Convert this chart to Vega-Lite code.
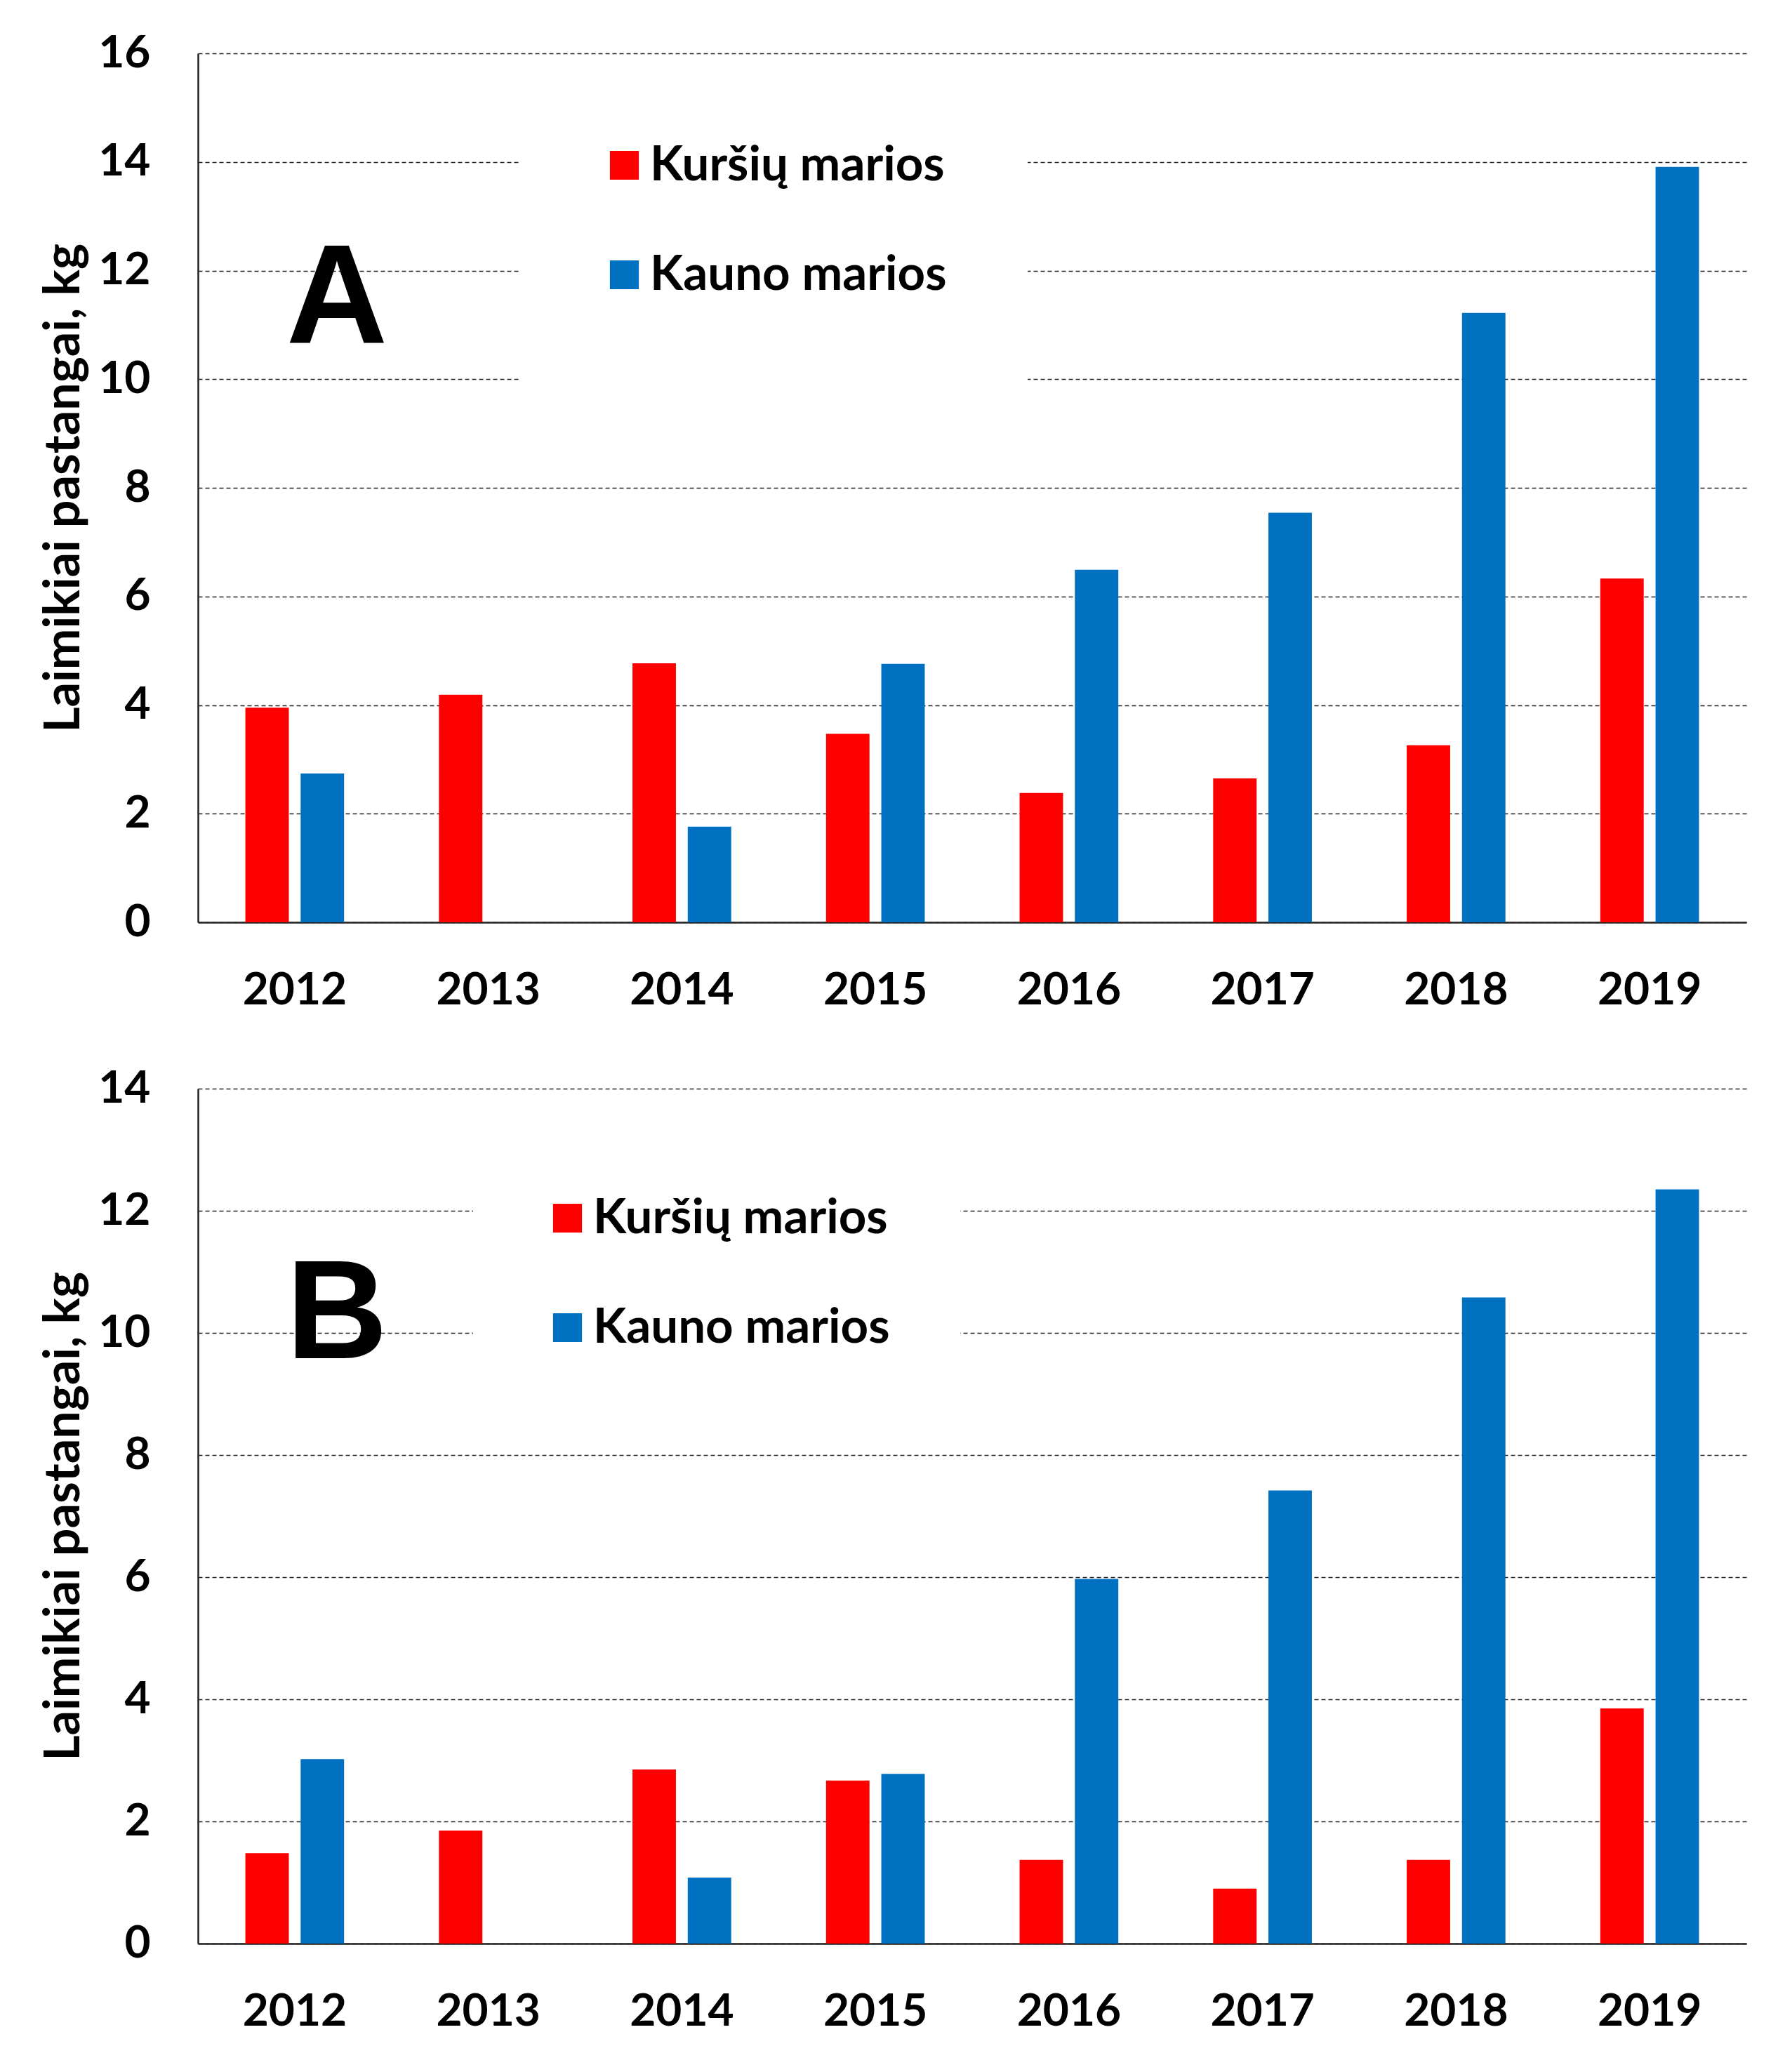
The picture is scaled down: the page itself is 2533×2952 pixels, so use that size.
{
  "$schema": "https://vega.github.io/schema/vega-lite/v6.json",
  "background": "white",
  "padding": {"left": 56, "top": 44, "right": 40, "bottom": 40},
  "config": {
    "font": "Lato",
    "view": {"stroke": null},
    "axisY": {
      "domain": true, "domainColor": "#222222", "domainWidth": 2.5, "format": "d",
      "ticks": false, "labelFontSize": 64, "labelFontWeight": "bold", "labelColor": "black",
      "labelPadding": 68, "grid": true, "gridColor": "#222222", "gridDash": [6, 4], "gridWidth": 1.6,
      "titleFontSize": 70, "titleFontWeight": "bold", "titleColor": "black", "titlePadding": 12
    },
    "axisX": {
      "domain": true, "domainColor": "#222222", "domainWidth": 2.5,
      "ticks": false, "labelFontSize": 64, "labelFontWeight": "bold", "labelColor": "black",
      "labelPadding": 65, "labelAngle": 0, "grid": false, "title": null
    },
    "legend": {
      "orient": "none", "title": null, "fillColor": "white", "symbolType": "square",
      "symbolSize": 1700, "symbolStrokeWidth": 0, "labelFontSize": 69, "labelFontWeight": "bold",
      "labelColor": "black", "labelOffset": 2, "rowPadding": 86, "labelLimit": 2000
    }
  },
  "datasets": {
    "bars": [
      {"panel": "A", "year": "2012", "series": "Kuršių marios", "value": 3.95},
      {"panel": "A", "year": "2012", "series": "Kauno marios", "value": 2.74},
      {"panel": "A", "year": "2013", "series": "Kuršių marios", "value": 4.19},
      {"panel": "A", "year": "2014", "series": "Kuršių marios", "value": 4.77},
      {"panel": "A", "year": "2014", "series": "Kauno marios", "value": 1.76},
      {"panel": "A", "year": "2015", "series": "Kuršių marios", "value": 3.47},
      {"panel": "A", "year": "2015", "series": "Kauno marios", "value": 4.76},
      {"panel": "A", "year": "2016", "series": "Kuršių marios", "value": 2.38},
      {"panel": "A", "year": "2016", "series": "Kauno marios", "value": 6.49},
      {"panel": "A", "year": "2017", "series": "Kuršių marios", "value": 2.65},
      {"panel": "A", "year": "2017", "series": "Kauno marios", "value": 7.54},
      {"panel": "A", "year": "2018", "series": "Kuršių marios", "value": 3.26},
      {"panel": "A", "year": "2018", "series": "Kauno marios", "value": 11.22},
      {"panel": "A", "year": "2019", "series": "Kuršių marios", "value": 6.33},
      {"panel": "A", "year": "2019", "series": "Kauno marios", "value": 13.91},
      {"panel": "B", "year": "2012", "series": "Kuršių marios", "value": 1.48},
      {"panel": "B", "year": "2012", "series": "Kauno marios", "value": 3.02},
      {"panel": "B", "year": "2013", "series": "Kuršių marios", "value": 1.85},
      {"panel": "B", "year": "2014", "series": "Kuršių marios", "value": 2.85},
      {"panel": "B", "year": "2014", "series": "Kauno marios", "value": 1.08},
      {"panel": "B", "year": "2015", "series": "Kuršių marios", "value": 2.67},
      {"panel": "B", "year": "2015", "series": "Kauno marios", "value": 2.78},
      {"panel": "B", "year": "2016", "series": "Kuršių marios", "value": 1.37},
      {"panel": "B", "year": "2016", "series": "Kauno marios", "value": 5.97},
      {"panel": "B", "year": "2017", "series": "Kuršių marios", "value": 0.9},
      {"panel": "B", "year": "2017", "series": "Kauno marios", "value": 7.42},
      {"panel": "B", "year": "2018", "series": "Kuršių marios", "value": 1.37},
      {"panel": "B", "year": "2018", "series": "Kauno marios", "value": 10.58},
      {"panel": "B", "year": "2019", "series": "Kuršių marios", "value": 3.85},
      {"panel": "B", "year": "2019", "series": "Kauno marios", "value": 12.35}
    ]
  },
  "spacing": 76,
  "resolve": {"legend": {"color": "independent"}},
  "vconcat": [
    {
      "width": 2206,
      "height": 1238,
      "layer": [
        {
          "data": {"name": "bars"},
          "transform": [{"filter": "datum.panel == 'A'"}],
          "mark": {"type": "bar"},
          "encoding": {
            "x": {"field": "year", "type": "nominal", "scale": {"paddingInner": 0.49, "paddingOuter": 0.245}},
            "xOffset": {"field": "series", "type": "nominal", "scale": {"domain": ["Kuršių marios", "Kauno marios"], "paddingInner": 0.214}},
            "y": {"field": "value", "type": "quantitative", "scale": {"domain": [0, 16]},
                  "axis": {"values": [0, 2, 4, 6, 8, 10, 12, 14, 16], "title": "Laimikiai pastangai, kg"}},
            "color": {"field": "series", "type": "nominal",
                      "scale": {"domain": ["Kuršių marios", "Kauno marios"], "range": ["#FF0000", "#0070C0"]},
                      "legend": {"legendX": 458, "legendY": 10, "padding": 115}}
          }
        },
        {
          "data": {"values": [{"label": "A", "year": "2012", "pos": 10.67}]},
          "mark": {"type": "text", "font": "Liberation Sans", "fontWeight": "bold", "fontSize": 200, "dx": 60, "baseline": "alphabetic", "align": "center", "color": "black"},
          "encoding": {
            "x": {"field": "year", "type": "nominal"},
            "y": {"field": "pos", "type": "quantitative"},
            "text": {"field": "label"}
          }
        }
      ]
    },
    {
      "width": 2206,
      "height": 1218,
      "layer": [
        {
          "data": {"name": "bars"},
          "transform": [{"filter": "datum.panel == 'B'"}],
          "mark": {"type": "bar"},
          "encoding": {
            "x": {"field": "year", "type": "nominal", "scale": {"paddingInner": 0.49, "paddingOuter": 0.245}},
            "xOffset": {"field": "series", "type": "nominal", "scale": {"domain": ["Kuršių marios", "Kauno marios"], "paddingInner": 0.214}},
            "y": {"field": "value", "type": "quantitative", "scale": {"domain": [0, 14]},
                  "axis": {"values": [0, 2, 4, 6, 8, 10, 12, 14], "title": "Laimikiai pastangai, kg"}},
            "color": {"field": "series", "type": "nominal",
                      "scale": {"domain": ["Kuršių marios", "Kauno marios"], "range": ["#FF0000", "#0070C0"]},
                      "legend": {"legendX": 392, "legendY": 50, "padding": 100}}
          }
        },
        {
          "data": {"values": [{"label": "B", "year": "2012", "pos": 9.585}]},
          "mark": {"type": "text", "font": "Liberation Sans", "fontWeight": "bold", "fontSize": 200, "dx": 60, "baseline": "alphabetic", "align": "center", "color": "black"},
          "encoding": {
            "x": {"field": "year", "type": "nominal"},
            "y": {"field": "pos", "type": "quantitative"},
            "text": {"field": "label"}
          }
        }
      ]
    }
  ]
}
